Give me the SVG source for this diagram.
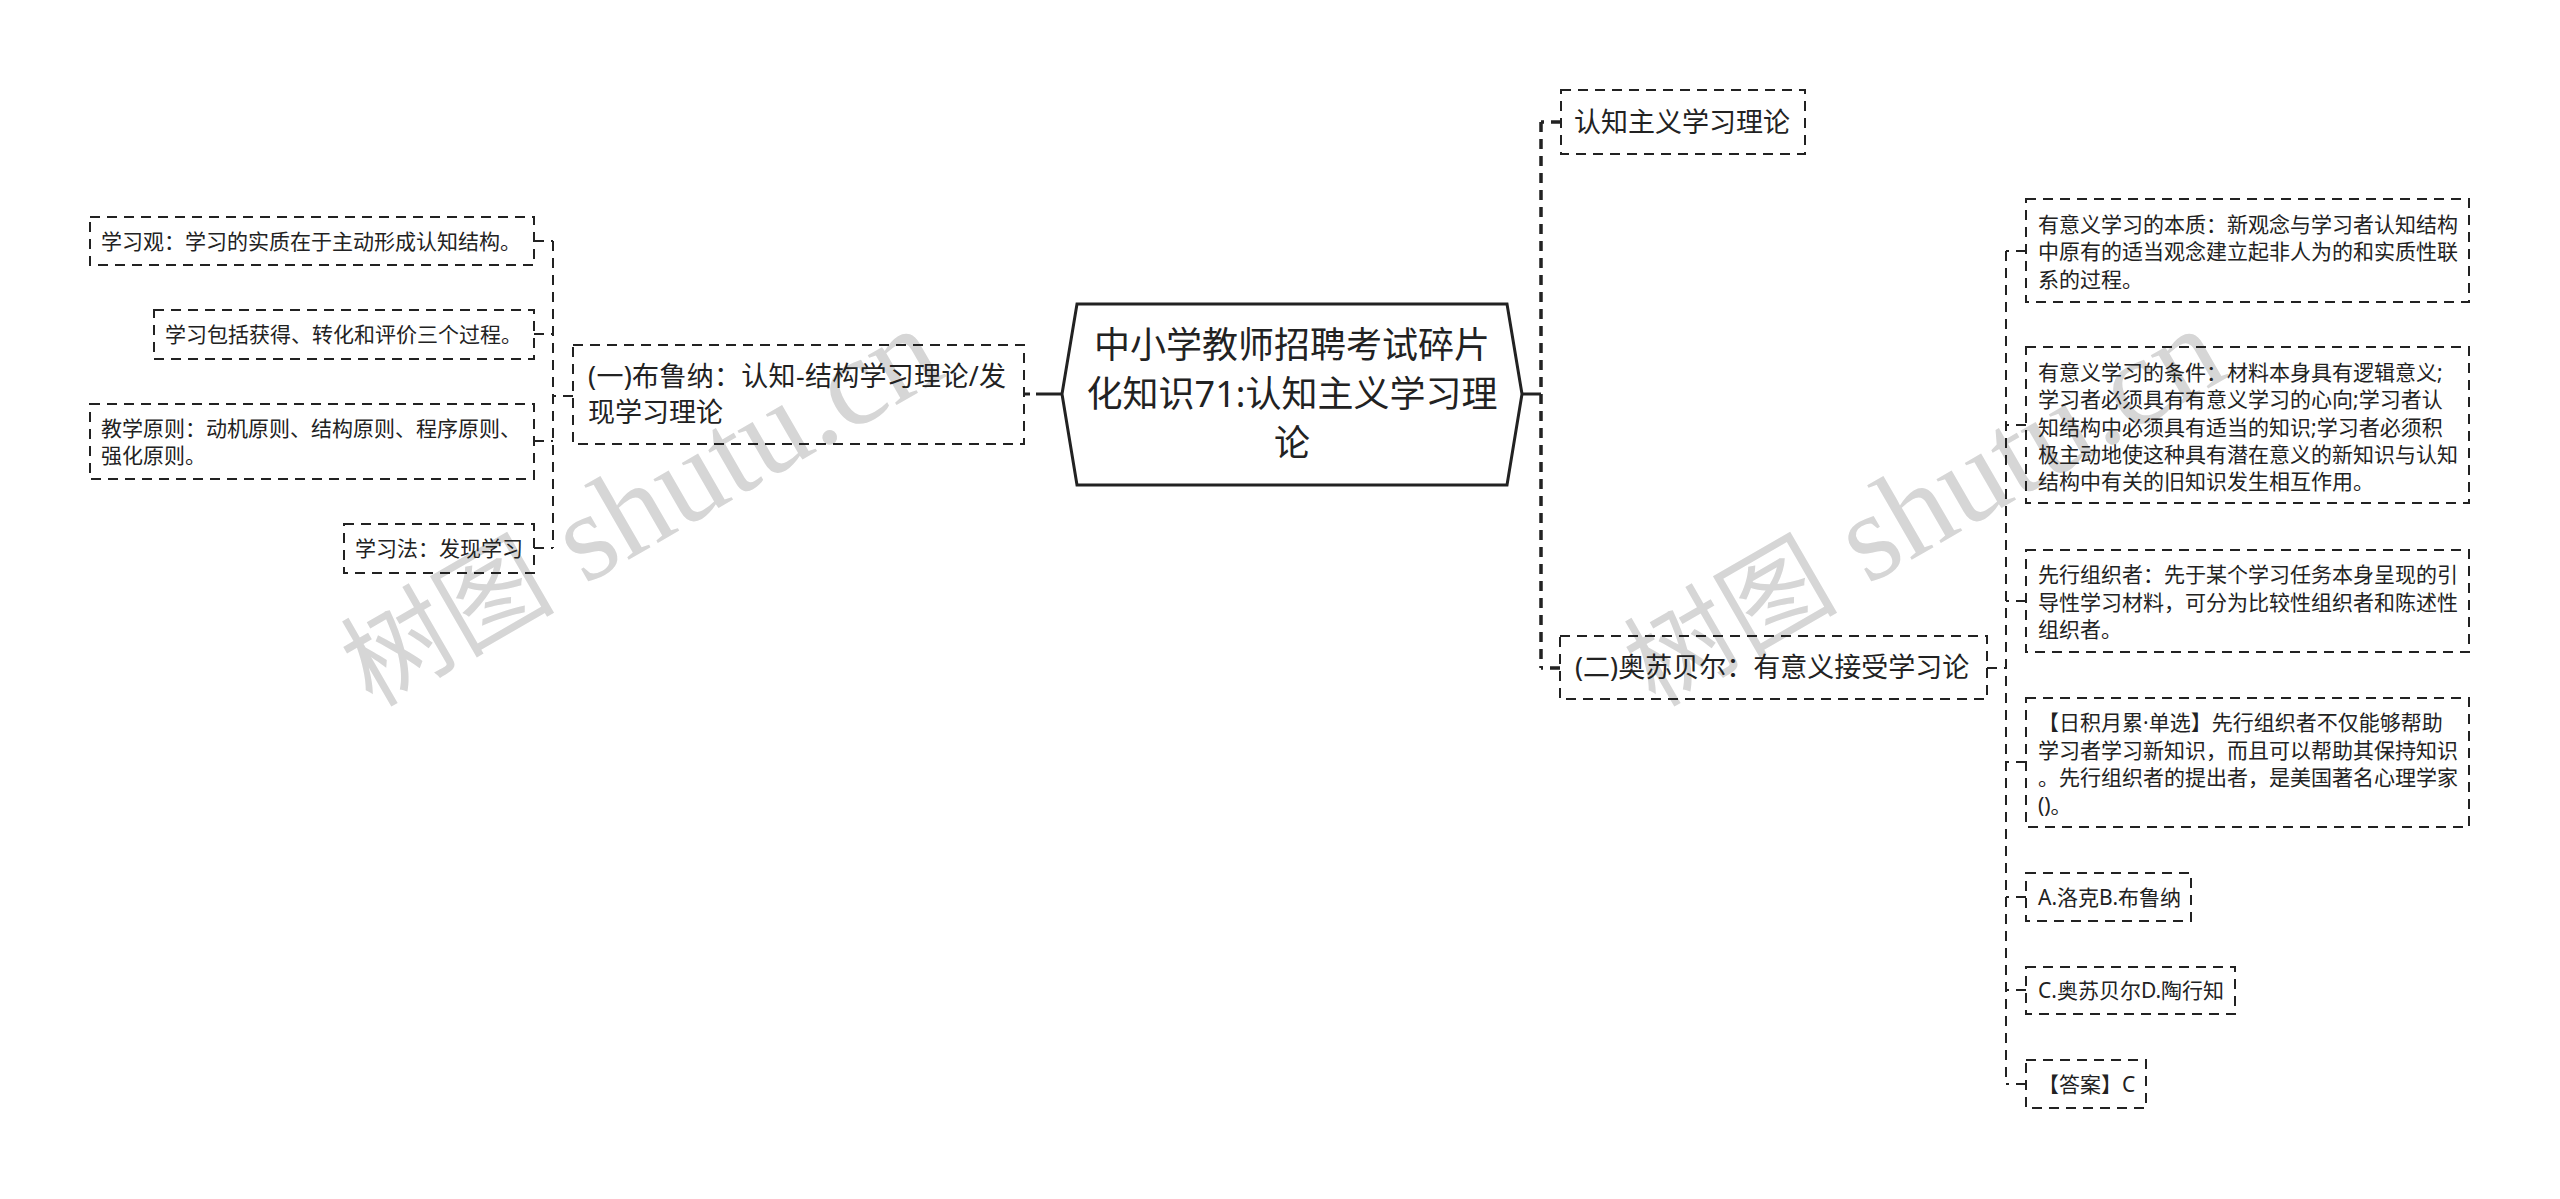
<svg xmlns="http://www.w3.org/2000/svg" width="2560" height="1199" viewBox="0 0 2560 1199">
<style>
text{font-family:"Noto Sans","Noto Sans CJK SC",sans-serif;fill:#222}
.wm{font-family:"Liberation Serif","Noto Sans CJK SC",serif;font-size:125px;fill:#d6d6d6;stroke:none}
.wc{font-family:"Noto Sans CJK SC",sans-serif;font-size:107px;fill:#d6d6d6}
.b{fill:none;stroke:#222;stroke-width:2;stroke-dasharray:10 7}
.c{fill:none;stroke:#222;stroke-width:2;stroke-dasharray:10 7}
.c1{fill:none;stroke:#222;stroke-width:3.5;stroke-dasharray:10 7}
.l{font-size:21px}.m{font-size:27px}.r{font-size:36px;text-anchor:middle}
.ls{letter-spacing:.3px}
</style>
<rect width="2560" height="1199" fill="#fff"/>
<g id="watermarks">
<text class="wm" transform="translate(372 708) rotate(-30)"><tspan class="wc">树图</tspan> shutu.cn</text>
<text class="wm" transform="translate(1655 708) rotate(-30)"><tspan class="wc">树图</tspan> shutu.cn</text>
</g>
<g id="connectors">
<path class="c1" d="M1541 122V668"/>
<path class="c1" d="M1561 122H1541M1560 668H1541"/>
<path d="M1522 394H1541" fill="none" stroke="#222" stroke-width="3"/>
<path d="M1024 394H1030M1036 394H1062" fill="none" stroke="#222" stroke-width="3"/>
<path class="c" d="M553 241V548M534 241H553M534 334H553M534 441H553M534 548H553M573 396H553"/>
<path class="c" d="M2006 251V1084M2026 251H2006M2026 425H2006M2026 601H2006M2026 762H2006M2026 897H2006M2026 990H2006M2026 1084H2006M1987 668H2006"/>
</g>
<g id="root">
<polygon points="1077,304 1507,304 1522,394 1507,485 1077,485 1062,394" fill="#fff" stroke="#222" stroke-width="3"/>
<text class="r" x="1292" y="358">中小学教师招聘考试碎片</text>
<text class="r" x="1292" y="407">化知识71:认知主义学习理</text>
<text class="r" x="1292" y="456">论</text>
</g>
<g id="n-cognitive"><rect class="b" x="1561" y="90" width="244" height="64"/><text class="m" x="1574" y="132">认知主义学习理论</text></g>
<g id="n-ausubel"><rect class="b" x="1560" y="636" width="427" height="63"/><text class="m" x="1575" y="677">(二)奥苏贝尔：有意义接受学习论</text></g>
<g id="n-bruner"><rect class="b" x="573" y="345" width="451" height="99"/><text class="m ls" x="588" y="386">(一)布鲁纳：认知-结构学习理论/发</text><text class="m" x="588" y="422">现学习理论</text></g>
<g id="l1"><rect class="b" x="90" y="217" width="444" height="48"/><text class="l" x="101" y="249">学习观：学习的实质在于主动形成认知结构。</text></g>
<g id="l2"><rect class="b" x="154" y="310" width="380" height="49"/><text class="l" x="165" y="342">学习包括获得、转化和评价三个过程。</text></g>
<g id="l3"><rect class="b" x="90" y="404" width="444" height="75"/><text class="l" x="101" y="436">教学原则：动机原则、结构原则、程序原则、</text><text class="l" x="101" y="463">强化原则。</text></g>
<g id="l4"><rect class="b" x="344" y="524" width="190" height="49"/><text class="l" x="355" y="556">学习法：发现学习</text></g>
<g id="r1"><rect class="b" x="2026" y="199" width="443" height="103"/><text class="l" x="2038" y="232">有意义学习的本质：新观念与学习者认知结构</text><text class="l" x="2038" y="259">中原有的适当观念建立起非人为的和实质性联</text><text class="l" x="2038" y="287">系的过程。</text></g>
<g id="r2"><rect class="b" x="2026" y="347" width="443" height="156"/><text class="l" x="2038" y="380">有意义学习的条件：材料本身具有逻辑意义;</text><text class="l" x="2038" y="407">学习者必须具有有意义学习的心向;学习者认</text><text class="l" x="2038" y="435">知结构中必须具有适当的知识;学习者必须积</text><text class="l" x="2038" y="462">极主动地使这种具有潜在意义的新知识与认知</text><text class="l" x="2038" y="489">结构中有关的旧知识发生相互作用。</text></g>
<g id="r3"><rect class="b" x="2026" y="550" width="443" height="102"/><text class="l" x="2038" y="582">先行组织者：先于某个学习任务本身呈现的引</text><text class="l" x="2038" y="610">导性学习材料，可分为比较性组织者和陈述性</text><text class="l" x="2038" y="637">组织者。</text></g>
<g id="r4"><rect class="b" x="2026" y="698" width="443" height="129"/><text class="l" x="2038" y="730">【日积月累·单选】先行组织者不仅能够帮助</text><text class="l" x="2038" y="758">学习者学习新知识，而且可以帮助其保持知识</text><text class="l" x="2038" y="785">。先行组织者的提出者，是美国著名心理学家</text><text class="l" x="2038" y="813">()。</text></g>
<g id="r5"><rect class="b" x="2026" y="873" width="165" height="48"/><text class="l" x="2038" y="905">A.洛克B.布鲁纳</text></g>
<g id="r6"><rect class="b" x="2026" y="967" width="209" height="47"/><text class="l" x="2038" y="998">C.奥苏贝尔D.陶行知</text></g>
<g id="r7"><rect class="b" x="2026" y="1060" width="120" height="48"/><text class="l" x="2038" y="1092">【答案】C</text></g>
</svg>
